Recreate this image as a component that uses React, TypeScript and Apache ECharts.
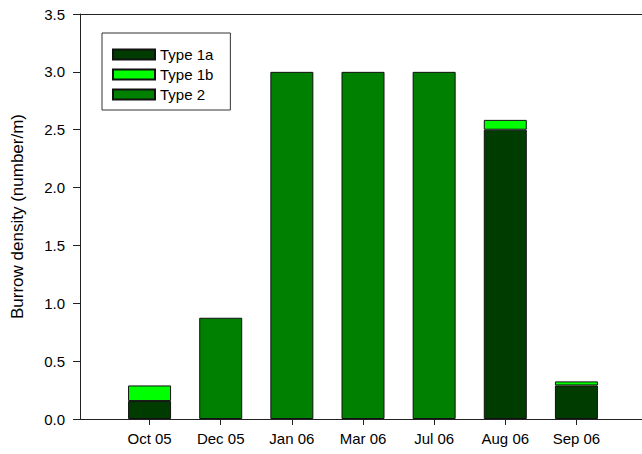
import React, { useEffect, useRef } from "react";
import * as echarts from "echarts";

const categories = ["Oct 05", "Dec 05", "Jan 06", "Mar 06", "Jul 06", "Aug 06", "Sep 06"];
const type1a = [0.155, 0, 0, 0, 0, 2.5, 0.29];
const type1b = [0.135, 0, 0, 0, 0, 0.085, 0.035];
const type2 = [0, 0.875, 3.0, 3.0, 3.0, 0, 0];
const seriesNames = ["Type 1a", "Type 1b", "Type 2"];
const seriesColors = ["#003c00", "#00ff00", "#008000"];
const yTickValues = [0, 0.5, 1.0, 1.5, 2.0, 2.5, 3.0, 3.5];

const FONT = "Liberation Sans, Arial, sans-serif";

export default function App() {
  const ref = useRef<HTMLDivElement>(null);
  useEffect(() => {
    if (!ref.current) return;
    const chart = echarts.init(ref.current, undefined, { renderer: "svg" });
    const toData = (arr: number[]) => arr.map((v) => (v === 0 ? "-" : v));
    const all = [type1a, type1b, type2];
    const yMin = yTickValues[0];
    const yMax = yTickValues[yTickValues.length - 1];
    chart.setOption({
      animation: false,
      backgroundColor: "#ffffff",
      textStyle: { fontFamily: FONT },
      grid: [
        { left: 114, top: 14, right: 30, bottom: 35 },
        { left: 80, top: 14, right: 0, bottom: 35 },
      ],
      legend: {
        orient: "vertical",
        left: 102,
        top: 33,
        icon: "rect",
        itemWidth: 42,
        itemHeight: 10,
        itemGap: 5,
        borderColor: "#333",
        borderWidth: 1,
        padding: [14, 17, 8, 10],
        textStyle: { fontSize: 15, color: "#000", fontFamily: FONT },
        data: seriesNames,
      },
      xAxis: [
        {
          type: "category",
          gridIndex: 0,
          data: categories,
          boundaryGap: true,
          axisLine: { show: false },
          axisTick: {
            show: true,
            alignWithLabel: true,
            length: 6,
            lineStyle: { color: "#222" },
          },
          axisLabel: {
            fontSize: 15,
            color: "#000",
            margin: 12,
            fontFamily: FONT,
          },
          splitLine: { show: false },
        },
        {
          type: "value",
          gridIndex: 1,
          min: 0,
          max: 1,
          splitLine: { show: false },
          axisLine: { show: true, lineStyle: { color: "#222", width: 1 } },
          axisTick: { show: false },
          axisLabel: { show: false },
        },
        {
          type: "value",
          gridIndex: 1,
          position: "top",
          min: 0,
          max: 1,
          splitLine: { show: false },
          axisLine: { show: true, lineStyle: { color: "#222", width: 1 } },
          axisTick: { show: false },
          axisLabel: { show: false },
        },
      ],
      yAxis: [
        {
          type: "value",
          gridIndex: 0,
          min: yMin,
          max: yMax,
          show: false,
        },
        {
          type: "value",
          gridIndex: 1,
          min: yMin,
          max: yMax,
          interval: 0.5,
          name: "Burrow density (number/m)",
          nameLocation: "middle",
          nameGap: 54,
          nameTextStyle: { fontSize: 17, color: "#000", fontFamily: FONT },
          splitLine: { show: false },
          axisLine: { show: true, lineStyle: { color: "#222", width: 1 } },
          axisTick: { show: true, length: 7, lineStyle: { color: "#222" } },
          axisLabel: {
            formatter: (v: number) => v.toFixed(1),
            fontSize: 15,
            color: "#000",
            margin: 15,
            fontFamily: FONT,
          },
        },
      ],
      series: seriesNames.map((name, k) => ({
        name,
        type: "bar",
        stack: "total",
        barWidth: 43,
        xAxisIndex: 0,
        yAxisIndex: 0,
        itemStyle: {
          color: seriesColors[k],
          borderColor: "#111",
          borderWidth: 1,
        },
        data: toData(all[k]),
      })),
    });
    return () => chart.dispose();
  }, []);
  return (
    <div
      ref={ref}
      style={{ position: "absolute", left: 0, top: 0, width: 642, height: 454 }}
    />
  );
}
